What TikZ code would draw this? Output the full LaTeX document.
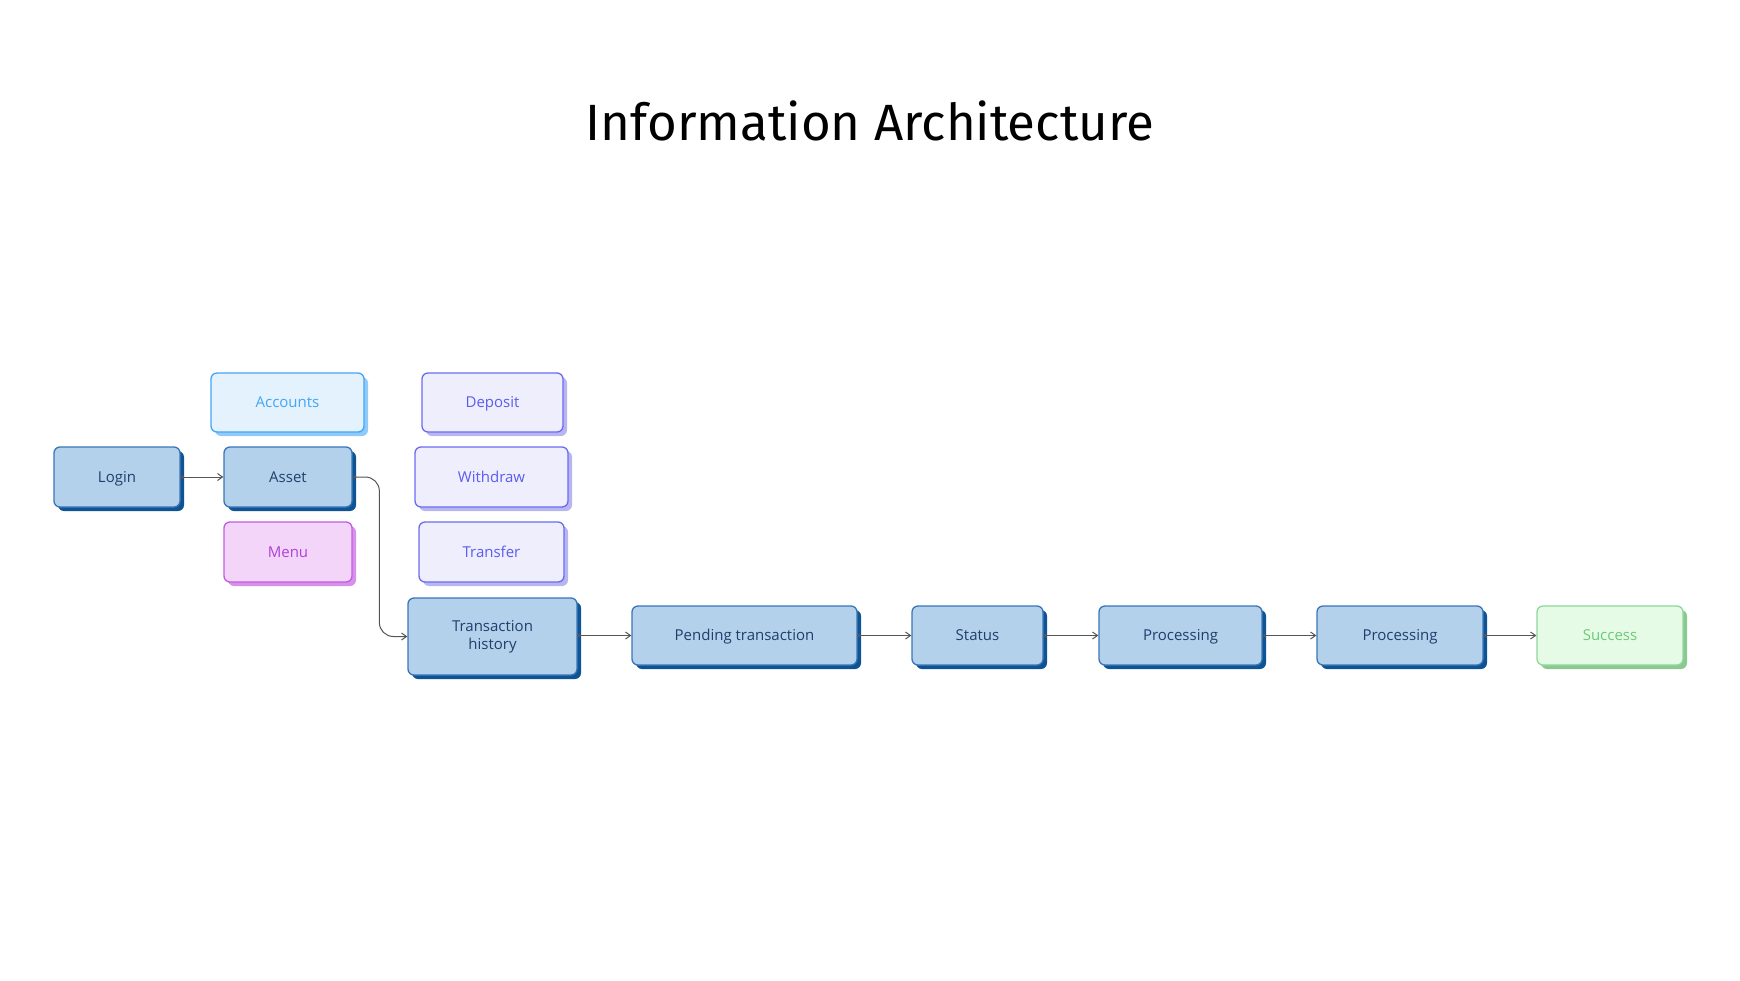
\documentclass[tikz,border=0pt]{standalone}
\usepackage{fontspec}
\setmainfont{Open Sans}
\newfontfamily\titlefont{Fira Sans}
\usetikzlibrary{
  arrows.meta,
  shadows
}
\definecolor{bluefill}{HTML}{B3D1EA}
\definecolor{blueline}{HTML}{3A75B8}
\definecolor{blueshade}{HTML}{0E5394}
\definecolor{bluetext}{HTML}{1F3F6E}
\definecolor{skyfill}{HTML}{E3F2FD}
\definecolor{skyline}{HTML}{42A5F5}
\definecolor{skyshade}{HTML}{90CAF9}
\definecolor{violetfill}{HTML}{EEEEFD}
\definecolor{violetline}{HTML}{6B6BF2}
\definecolor{violetshade}{HTML}{B8B5F0}
\definecolor{violettext}{HTML}{5C5CF0}
\definecolor{pinkfill}{HTML}{F3D5FA}
\definecolor{pinkline}{HTML}{C25BE0}
\definecolor{pinkshade}{HTML}{D890EA}
\definecolor{pinktext}{HTML}{B041D6}
\definecolor{greenfill}{HTML}{E6FBE6}
\definecolor{greenline}{HTML}{8ED79A}
\definecolor{greenshade}{HTML}{8CC992}
\definecolor{greentext}{HTML}{6DC97A}
\definecolor{linkgray}{HTML}{555555}

\begin{document}
\begin{tikzpicture}[
  x=1pt, y=-1pt,
  box/.style={rounded corners=6pt, line width=1.3pt, inner sep=0pt,
    text height=12pt, text depth=1.5pt,
    align=center, font=\fontsize{15}{18}\selectfont},
  bluebox/.style={box, draw=blueline, fill=bluefill, text=bluetext,
    drop shadow={shadow xshift=4pt, shadow yshift=-4pt, fill=blueshade, opacity=1}},
  skybox/.style={box, draw=skyline, fill=skyfill, text=skyline,
    drop shadow={shadow xshift=4pt, shadow yshift=-4pt, fill=skyshade, opacity=1}},
  violetbox/.style={box, draw=violetline, fill=violetfill, text=violettext,
    drop shadow={shadow xshift=4pt, shadow yshift=-4pt, fill=violetshade, opacity=1}},
  pinkbox/.style={box, draw=pinkline, fill=pinkfill, text=pinktext,
    drop shadow={shadow xshift=4pt, shadow yshift=-4pt, fill=pinkshade, opacity=1}},
  greenbox/.style={box, draw=greenline, fill=greenfill, text=greentext,
    drop shadow={shadow xshift=4pt, shadow yshift=-4pt, fill=greenshade, opacity=1}},
  link/.style={draw=linkgray, line width=1pt,
    arrows={Circle[length=3.5pt]-Straight Barb[length=5pt, width=7pt]}}
]
\useasboundingbox (0,0) rectangle (1740,980);
\node[anchor=base, font=\titlefont\fontsize{51}{60}\selectfont] (title) at (870,140) {Information Architecture};

\node[bluebox, minimum width=126pt, minimum height=60pt] (login) at (117,477) {Login};
\node[bluebox, minimum width=128pt, minimum height=60pt] (asset) at (288,477) {Asset};
\node[skybox, minimum width=153pt, minimum height=59pt] (accounts) at (287.5,402.5) {Accounts};
\node[pinkbox, minimum width=128pt, minimum height=60pt] (menu) at (288,552) {Menu};
\node[violetbox, minimum width=141pt, minimum height=59pt] (deposit) at (492.5,402.5) {Deposit};
\node[violetbox, minimum width=153pt, minimum height=60pt] (withdraw) at (491.5,477) {Withdraw};
\node[violetbox, minimum width=145pt, minimum height=60pt] (transfer) at (491.5,552) {Transfer};
\node[bluebox, minimum width=169pt, minimum height=77pt, text height={}, text depth={}] (history) at (492.5,636.5) {Transaction\\history};
\node[bluebox, minimum width=225pt, minimum height=59pt] (pending) at (744.5,635.5) {Pending transaction};
\node[bluebox, minimum width=131pt, minimum height=59pt] (status) at (977.5,635.5) {Status};
\node[bluebox, minimum width=163pt, minimum height=59pt] (proc1) at (1180.5,635.5) {Processing};
\node[bluebox, minimum width=166pt, minimum height=59pt] (proc2) at (1400,635.5) {Processing};
\node[greenbox, minimum width=146pt, minimum height=59pt] (success) at (1610,635.5) {Success};

\draw[link] (login.east) -- (asset.west);
\draw[link, rounded corners=14pt] (asset.east) -| ([xshift=-28pt]history.west) -- (history.west);
\draw[link] (history.east |- pending.west) -- (pending.west);
\draw[link] (pending.east) -- (status.west);
\draw[link] (status.east) -- (proc1.west);
\draw[link] (proc1.east) -- (proc2.west);
\draw[link] (proc2.east) -- (success.west);
\end{tikzpicture}
\end{document}
